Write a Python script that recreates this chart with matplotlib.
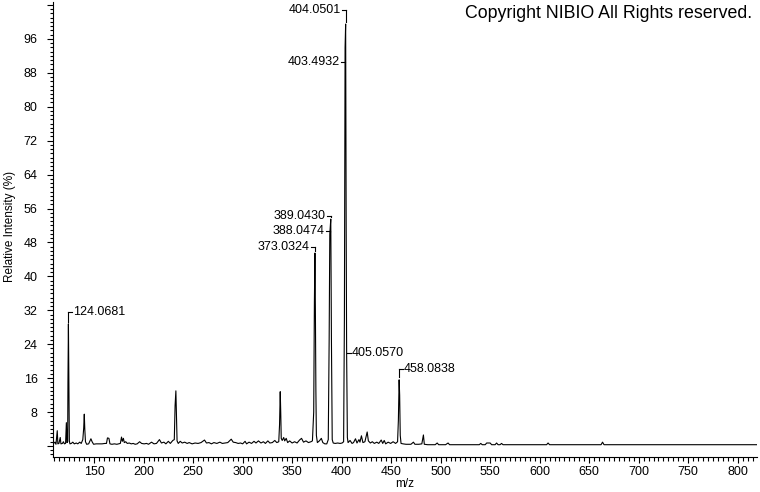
import numpy as np
import matplotlib
matplotlib.use("Agg")
import matplotlib.pyplot as plt
from matplotlib.ticker import MultipleLocator, FuncFormatter

plt.rcParams['font.family'] = ['Liberation Sans', 'DejaVu Sans']

# profile spectrum (m/z, relative intensity %)
mz = [109.0, 110.5, 111.5, 112.8, 113.4, 114.5, 115.8, 116.5, 118.0, 119.0,
      120.0, 121.2, 122.0, 122.6, 123.3, 123.6, 124.07, 124.5, 125.0, 125.6,
      127.0, 128.5, 130.0, 132.0, 133.5, 135.5, 137.0, 138.6, 139.5, 140.1,
      140.6, 141.3, 142.5, 144.5, 146.8, 148.0, 149.5, 152.0, 155.0, 158.0,
      161.0, 162.5, 163.5, 165.0, 166.0, 168.0, 170.5, 173.0, 175.0, 176.5,
      177.7, 178.5, 179.6, 180.5, 182.0, 183.5, 185.5, 187.5, 189.5, 191.5,
      193.5, 196.0, 198.0, 200.5, 203.0, 205.0, 208.0, 210.5, 213.0, 216.0,
      218.0, 220.5, 222.5, 225.0, 227.0, 229.5, 231.0, 231.8, 232.6, 233.2,
      233.8, 235.0, 237.0, 239.0, 241.5, 244.0, 246.0, 249.0, 252.0, 255.0,
      258.0, 261.5, 263.5, 266.0, 268.5, 271.0, 274.0, 277.0, 279.5, 282.0,
      285.0, 288.5, 290.5, 293.0, 295.5, 298.0, 300.0, 302.5, 304.0, 306.5,
      309.0, 311.5, 313.5, 316.0, 318.5, 321.0, 323.0, 325.5, 327.5, 330.0,
      332.5, 334.5, 336.5, 337.3, 338.0, 338.5, 339.0, 340.0, 341.5, 342.5,
      344.0, 345.5, 347.5, 350.0, 352.5, 355.0, 357.5, 359.5, 361.5, 364.0,
      366.5, 369.0, 370.5, 371.8, 372.5, 373.03, 373.5, 374.0, 374.5, 375.5,
      377.5, 379.5, 381.0, 383.0, 385.0, 386.5, 387.4, 388.05, 389.04, 389.7,
      390.5, 391.5, 393.5, 396.0, 398.5, 400.5, 402.0, 402.8, 403.49, 404.05,
      404.6, 405.06, 405.8, 406.5, 408.5, 410.5, 412.0, 414.0, 415.5, 417.5,
      418.5, 420.0, 421.5, 423.5, 425.8, 427.0, 429.0, 431.0, 433.0, 435.5,
      437.5, 440.0, 441.5, 443.0, 444.5, 447.0, 449.5, 452.0, 454.5, 456.5,
      457.3, 458.08, 458.6, 459.2, 460.0, 462.0, 465.0, 468.0, 470.0, 472.5,
      474.0, 478.0, 481.0, 482.6, 483.5, 487.0, 491.0, 494.5, 496.5, 498.0,
      505.0, 507.5, 509.0, 518.0, 526.0, 539.0, 540.5, 542.0, 545.0, 546.5,
      550.0, 551.5, 555.0, 556.5, 558.0, 560.0, 561.5, 563.0, 580.0, 600.0,
      607.0, 608.5, 610.0, 630.0, 650.0, 662.0, 663.5, 665.0, 700.0, 750.0,
      800.0, 819.0]
intensity = [0.6, 0.9, 0.4, 3.6, 0.5, 0.6, 2.0, 0.5, 0.6, 1.0,
             0.5, 0.6, 5.5, 0.8, 1.0, 15.0, 28.8, 14.5, 1.2, 0.5,
             0.6, 0.9, 0.5, 0.7, 0.5, 0.9, 0.6, 1.5, 4.2, 7.5,
             4.0, 1.0, 0.4, 0.5, 1.7, 1.0, 0.4, 0.5, 0.5, 0.5,
             0.6, 0.6, 1.9, 1.8, 0.5, 0.4, 0.5, 0.4, 0.5, 0.6,
             2.1, 1.1, 1.8, 0.8, 1.0, 0.6, 0.7, 0.5, 0.6, 0.4,
             0.5, 1.0, 0.6, 0.5, 0.6, 0.4, 0.9, 0.5, 0.6, 1.5,
             0.7, 0.9, 0.5, 1.1, 0.6, 1.3, 1.5, 9.5, 13.0, 7.0,
             1.2, 0.6, 1.1, 0.7, 0.9, 0.6, 0.8, 0.5, 0.7, 0.6,
             0.8, 1.4, 0.7, 0.8, 0.5, 0.8, 0.6, 0.9, 0.6, 0.7,
             0.8, 1.6, 0.9, 0.8, 0.6, 0.7, 0.5, 1.1, 0.5, 0.9,
             0.6, 1.1, 0.7, 1.2, 0.7, 1.0, 0.6, 1.2, 0.7, 0.8,
             1.3, 0.8, 1.0, 5.0, 12.8, 8.0, 1.8, 1.3, 2.0, 1.2,
             1.8, 0.8, 1.2, 0.7, 1.0, 0.7, 1.4, 1.8, 0.9, 1.2,
             0.8, 1.0, 1.2, 8.0, 34.0, 45.5, 32.0, 13.0, 2.5, 0.8,
             1.2, 1.8, 0.8, 0.5, 0.5, 1.5, 25.0, 50.0, 53.5, 25.0,
             1.5, 0.7, 0.6, 0.7, 0.6, 0.7, 1.0, 30.0, 94.0, 99.5,
             51.0, 21.5, 2.0, 0.8, 1.3, 0.6, 0.8, 1.7, 0.7, 1.5,
             0.9, 2.4, 0.8, 1.0, 3.3, 1.2, 0.7, 1.0, 0.6, 0.9,
             0.6, 1.4, 0.6, 1.3, 0.5, 0.9, 0.6, 1.0, 0.6, 1.0,
             6.0, 15.6, 12.0, 2.5, 0.6, 0.5, 0.4, 0.4, 0.4, 0.9,
             0.4, 0.4, 0.5, 2.6, 0.4, 0.3, 0.3, 0.3, 0.7, 0.3,
             0.3, 0.7, 0.3, 0.3, 0.3, 0.3, 0.6, 0.3, 0.3, 0.7,
             0.7, 0.3, 0.3, 0.7, 0.3, 0.3, 0.6, 0.3, 0.3, 0.3,
             0.3, 0.7, 0.3, 0.3, 0.3, 0.3, 0.9, 0.3, 0.3, 0.3,
             0.3, 0.3]

# peak labels
label_mz = [124.0681, 373.0324, 388.0474, 389.0430, 403.4932, 404.0501, 405.0570, 458.0838]
label_text = ["124.0681", "373.0324", "388.0474", "389.0430", "403.4932", "404.0501", "405.0570", "458.0838"]
label_level = [31.6, 46.9, 50.7, 54.2, 90.5, 102.8, 21.9, 18.2]
label_side = ["right", "left", "left", "left", "left", "left", "right", "right"]

fig = plt.figure(figsize=(7.6, 4.92), dpi=100)
ax = fig.add_axes([53 / 760, 35 / 492, 704 / 760, 455 / 492])

ax.plot(mz, intensity, color="black", lw=0.8)

stub = 4.0
for x, txt, ly, side in zip(label_mz, label_text, label_level, label_side):
    top = np.interp(x, mz, intensity)
    if ly > top + 0.6:
        ax.plot([x, x], [ly, top + 0.6], color="black", lw=0.8)
    if side == "left":
        ax.plot([x - stub, x], [ly, ly], color="black", lw=0.8)
        ax.text(x - stub - 1, ly, txt, ha="right", va="center", fontsize=9)
    else:
        ax.plot([x, x + stub], [ly, ly], color="black", lw=0.8)
        ax.text(x + stub + 1, ly, txt, ha="left", va="center", fontsize=9)

ax.set_xlim(108.5, 819.5)
ax.set_ylim(-2.6, 104.7)

ax.spines["top"].set_visible(False)
ax.spines["right"].set_visible(False)
ax.spines["left"].set_linewidth(0.8)
ax.spines["bottom"].set_linewidth(0.8)

ax.xaxis.set_major_locator(MultipleLocator(50))
ax.xaxis.set_minor_locator(MultipleLocator(5))
ax.yaxis.set_major_locator(MultipleLocator(8))
ax.yaxis.set_minor_locator(MultipleLocator(1))
ax.yaxis.set_major_formatter(FuncFormatter(lambda v, p: "" if v <= 0 or v > 100 else "%d" % v))
ax.xaxis.set_major_formatter(FuncFormatter(lambda v, p: "%d" % v))

ax.tick_params(axis="x", which="major", length=4.5, width=0.8, pad=2, labelsize=9)
ax.tick_params(axis="x", which="minor", length=3, width=0.8)
ax.tick_params(axis="y", which="major", length=4, width=0.8, pad=7, labelsize=9)
ax.tick_params(axis="y", which="minor", length=2.2, width=0.8)

fig.text(752 / 760, 1 - 14 / 492, "Copyright NIBIO All Rights reserved.",
         ha="right", va="center", fontsize=12.8)
fig.text(10 / 760, 1 - 226 / 492, "Relative Intensity (%)", rotation=90,
         ha="center", va="center", fontsize=8.5)
fig.text(405 / 760, 1 - 484 / 492, "m/z", ha="center", va="center", fontsize=8.5)

fig.savefig("out.png", dpi=100)
